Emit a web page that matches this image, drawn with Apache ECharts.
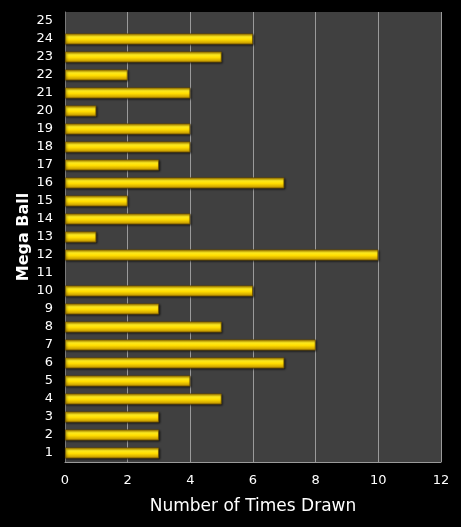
<!DOCTYPE html>
<html>
<head>
<meta charset="utf-8">
<title>Mega Ball</title>
<script src="https://cdn.jsdelivr.net/npm/echarts@6/dist/echarts.min.js"></script>
<style>
html, body { margin: 0; padding: 0; background: #000; }
#main { width: 461px; height: 527px; }
</style>
</head>
<body>
<div id="main"></div>
<script>
// mega ball numbers (bottom to top)
var balls = ['1','2','3','4','5','6','7','8','9','10','11','12','13','14','15','16','17','18','19','20','21','22','23','24','25'];
// times drawn
var drawn = [3, 3, 3, 5, 4, 7, 8, 5, 3, 6, 0, 10, 1, 4, 2, 7, 3, 4, 4, 1, 4, 2, 5, 6, 0];
var xTicks = [0, 2, 4, 6, 8, 10, 12];

var chart = echarts.init(document.getElementById('main'));
var fontFam = 'DejaVu Sans, Verdana, sans-serif';

var option = {
  backgroundColor: '#000000',
  animation: false,
  grid: { left: 65, right: 20, top: 12, bottom: 65, backgroundColor: '#404040', show: true, borderWidth: 0 },
  xAxis: {
    type: 'value',
    min: xTicks[0],
    max: xTicks[xTicks.length - 1],
    interval: 2,
    name: 'Number of Times Drawn',
    nameLocation: 'middle',
    nameGap: 36,
    nameTextStyle: { color: '#ffffff', fontSize: 17, fontFamily: fontFam },
    axisLine: { show: true, lineStyle: { color: '#9a9a9a', width: 1 } },
    axisTick: { show: false },
    axisLabel: { color: '#ffffff', fontSize: 13, margin: 12, fontFamily: fontFam },
    splitLine: { show: true, lineStyle: { color: '#9a9a9a', width: 1 } }
  },
  yAxis: {
    type: 'category',
    data: balls,
    name: 'Mega Ball',
    nameLocation: 'middle',
    nameGap: 33,
    nameMoveOverlap: false,
    nameTextStyle: { color: '#ffffff', fontSize: 16, fontWeight: 'bold', fontFamily: fontFam },
    axisLine: { show: true, lineStyle: { color: '#7a7a7a' } },
    axisTick: { show: false },
    axisLabel: { color: '#ffffff', fontSize: 13, margin: 12, fontFamily: fontFam, interval: 0 },
    splitLine: { show: false }
  },
  series: [{
    type: 'bar',
    data: drawn.map(function (v) { return v === 0 ? '-' : v; }),
    barWidth: 11,
    itemStyle: {
      color: new echarts.graphic.LinearGradient(0, 0, 0, 1, [
        { offset: 0, color: '#d8a800' },
        { offset: 0.3, color: '#ffec20' },
        { offset: 0.55, color: '#ffdc00' },
        { offset: 1, color: '#b88a00' }
      ]),
      borderColor: '#6e5200',
      borderWidth: 0.8,
      shadowColor: 'rgba(0,0,0,0.6)',
      shadowBlur: 2,
      shadowOffsetX: 1,
      shadowOffsetY: 1
    }
  }]
};
chart.setOption(option);
</script>
</body>
</html>
